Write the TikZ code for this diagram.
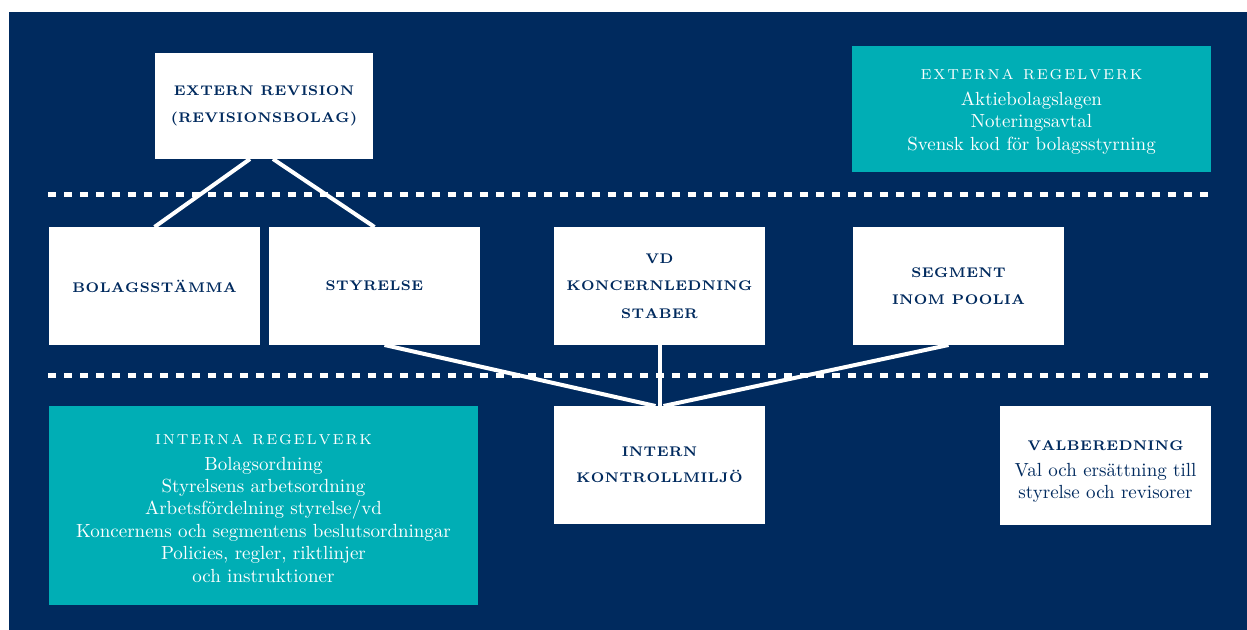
\documentclass[tikz,border=0pt]{standalone}
\usepackage{fontspec}
\usepackage{xcolor}
\usepackage{tikz}
\usetikzlibrary{calc}
\usetikzlibrary{positioning}

\definecolor{poolnavy}{RGB}{0,42,94}
\definecolor{poolteal}{RGB}{0,174,181}
\ExplSyntaxOn
\NewDocumentCommand{\spread}{mm}{\tl_map_inline:nn {#2} {##1\kern #1}\unkern}
\ExplSyntaxOff
\newcommand{\hdw}[1]{{\fontsize{7}{13}\selectfont\bfseries\spread{0.25pt}{#1}}}
\newcommand{\hdt}[2][5pt]{{\rule{0pt}{#1}\fontsize{7.2}{13}\selectfont\spread{0.92pt}{#2}}}

\begin{document}
\begin{tikzpicture}[x=0.5pt,y=-0.5pt,
	wbox/.style={fill=white,text=poolnavy,align=center,inner sep=0pt,outer sep=0pt,
		minimum width=105.5pt,minimum height=59pt,font=\fontsize{9.5}{11.2}\selectfont},
	tbox/.style={wbox,fill=poolteal,text=white},
	link/.style={white,line width=2pt},
	sepline/.style={white,line width=2.5pt,dash pattern=on 4pt off 4pt}]
	\useasboundingbox (0,0) rectangle (1247,630);
	\fill[poolnavy] (9,12) rectangle (1247,630);
	% dotted separators
	\draw[sepline] (48,195) -- (1214,195);
	\draw[sepline] (48,376) -- (1214,376);
	% top row
	\node[wbox,minimum width=109pt,minimum height=53pt] (rev) at (264,106) {\hdw{EXTERN~REVISION}\\[2pt]\hdw{(REVISIONSBOLAG)}};
	\node[tbox,minimum width=179.5pt,minimum height=63pt] (ext) at (1031.5,109) {\hdt[8pt]{EXTERNA~REGELVERK}\\[1.5pt]Aktiebolagslagen\\Noteringsavtal\\Svensk kod för bolagsstyrning};
	% middle row
	\node[wbox] (bolag) at (154.5,286) {\hdw{BOLAGSSTÄMMA}};
	\node[wbox] (styr) at (374.5,286) {\hdw{STYRELSE}};
	\node[wbox] (vd) at (659.5,286) {\hdw{VD}\\[2.5pt]\hdw{KONCERNLEDNING}\\[2.5pt]\hdw{STABER}};
	\node[wbox] (seg) at (958.5,286) {\hdw{SEGMENT}\\[2pt]\hdw{INOM~POOLIA}};
	% bottom row
	\node[tbox,minimum width=214.5pt,minimum height=99.5pt] (intr) at (263.5,505.5) {\hdt[8pt]{INTERNA~REGELVERK}\\[1.5pt]Bolagsordning\\Styrelsens arbetsordning\\Arbetsfördelning styrelse/vd\\Koncernens och segmentens beslutsordningar\\Policies, regler, riktlinjer\\och instruktioner};
	\node[wbox] (ktrl) at (659.5,465) {\hdw{INTERN}\\[2pt]\hdw{KONTROLLMILJÖ}};
	\node[wbox] (val) at (1105.5,465.5) {\rule{0pt}{11pt}\hdw{VALBEREDNING}\\[1.5pt]Val och ersättning till\\styrelse och revisorer};
	% connectors
	\draw[link] ($(rev.south)+(-14,0)$) -- (bolag.north);
	\draw[link] ($(rev.south)+(9,0)$) -- (styr.north);
	\draw[link] ($(styr.south)+(10,0)$) -- ($(ktrl.north)+(-4,0)$);
	\draw[link] (vd.south) -- (ktrl.north);
	\draw[link] ($(seg.south)+(-10,0)$) -- ($(ktrl.north)+(4,0)$);
\end{tikzpicture}
\end{document}
